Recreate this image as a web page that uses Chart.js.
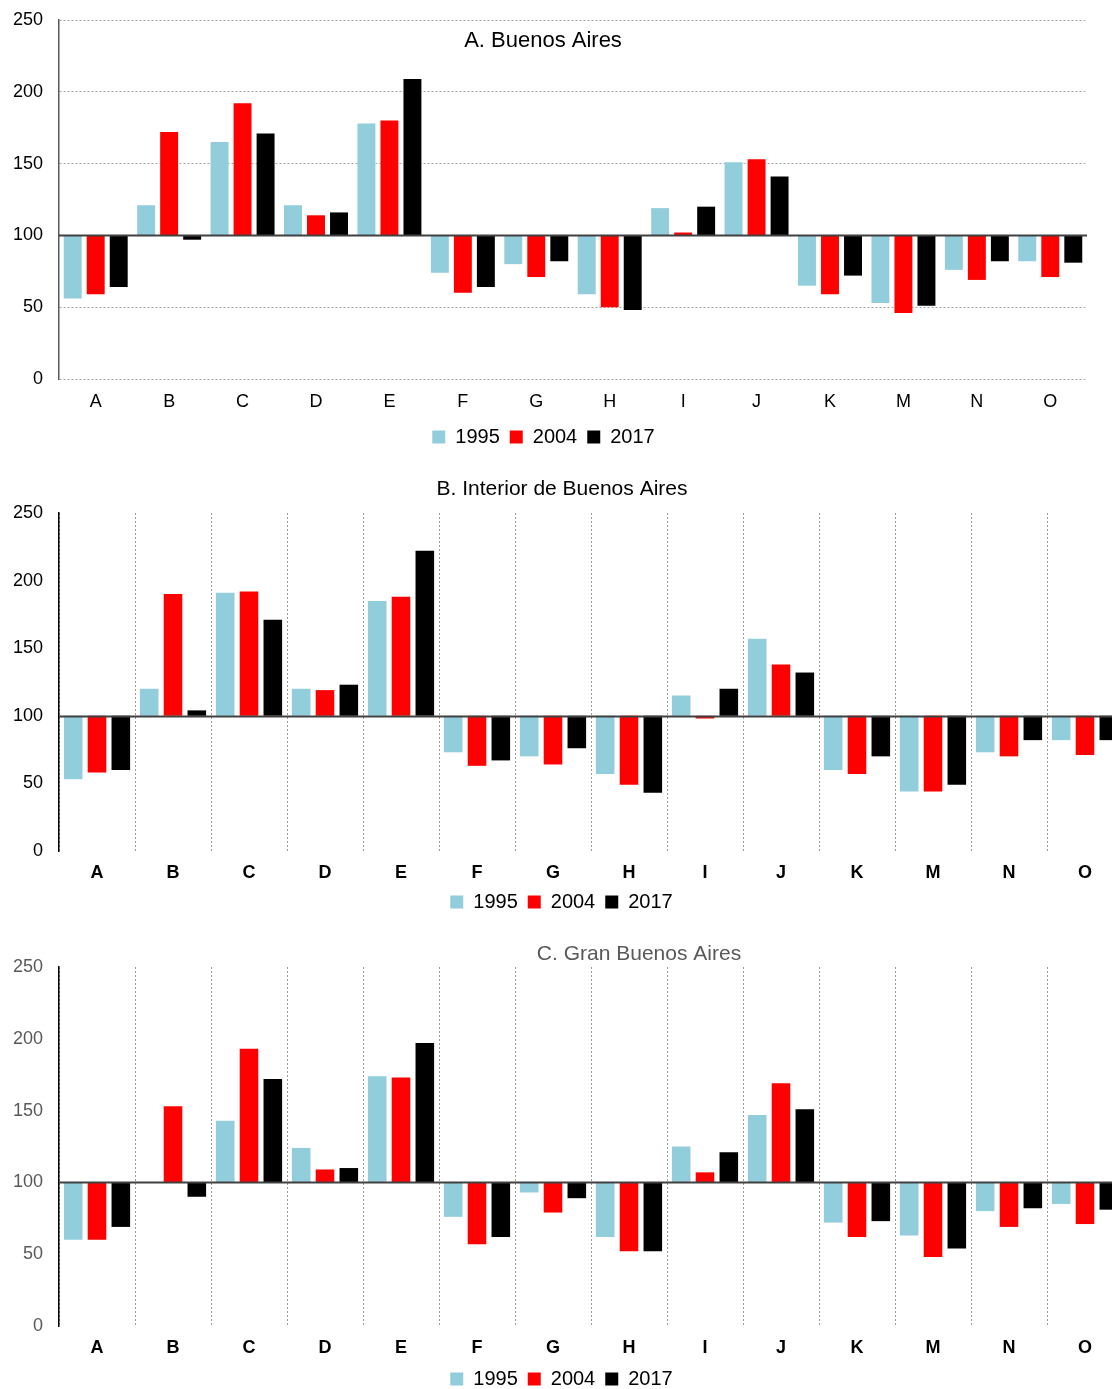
<!DOCTYPE html>
<html>
<head>
<meta charset="utf-8">
<script src="https://cdn.jsdelivr.net/npm/chart.js@4/dist/chart.umd.min.js"></script>
<style>
  html, body { margin: 0; padding: 0; background: #fff; overflow: hidden; }
  #wrap { position: relative; width: 1112px; height: 1389px; overflow: hidden; }
  canvas { position: absolute; left: 0; }
</style>
</head>
<body>
<div id="wrap">
  <canvas id="chartA" width="1112" height="457" style="top:0px"></canvas>
  <canvas id="chartB" width="1126" height="465" style="top:457px"></canvas>
  <canvas id="chartC" width="1126" height="478" style="top:921px"></canvas>
</div>
<script>
// categorías y años
const categories = ['A', 'B', 'C', 'D', 'E', 'F', 'G', 'H', 'I', 'J', 'K', 'M', 'N', 'O'];
const years = ['1995', '2004', '2017'];
const yTickValues = [0, 50, 100, 150, 200, 250];
const baseValue = 100;

// A. Buenos Aires
const bsas1995 = [56, 121, 165, 121, 178, 74, 80, 59, 119, 151, 65, 53, 76, 82];
const bsas2004 = [59, 172, 192, 114, 180, 60, 71, 50, 102, 153, 59, 46, 69, 71];
const bsas2017 = [64, 97, 171, 116, 209, 64, 82, 48, 120, 141, 72, 51, 82, 81];

// B. Interior de Buenos Aires
const interior1995 = [53, 120, 191, 120, 185, 73, 70, 57, 115, 157, 60, 44, 73, 82];
const interior2004 = [58, 190, 192, 119, 188, 63, 64, 49, 98, 138, 57, 44, 70, 71];
const interior2017 = [60, 104, 171, 123, 222, 67, 76, 43, 120, 132, 70, 49, 82, 82];

// C. Gran Buenos Aires
const gba1995 = [60, null, 143, 124, 174, 76, 93, 62, 125, 147, 72, 63, 80, 85];
const gba2004 = [60, 153, 193, 109, 173, 57, 79, 52, 107, 169, 62, 48, 69, 71];
const gba2017 = [69, 90, 172, 110, 197, 62, 89, 52, 121, 151, 73, 54, 82, 81];

const colors = ['#92CDDC', '#FF0000', '#000000'];
const FONT = 'Liberation Sans, Arial, sans-serif';

// barras flotantes a partir de 100
function floating(values) {
  return values.map(v => (v === null ? null : [baseValue, v]));
}

function makeDatasets(series) {
  return series.map((values, i) => ({
    label: years[i],
    data: floating(values),
    backgroundColor: colors[i],
    categoryPercentage: 0.94,
    barPercentage: 0.78
  }));
}

// línea de base en 100
const baseLine = {
  id: 'baseLine',
  afterDatasetsDraw(chart, args, opts) {
    const { ctx, chartArea, scales } = chart;
    const y = Math.round(scales.y.getPixelForValue(baseValue)) + 0.5;
    ctx.save();
    ctx.strokeStyle = opts.color || '#404040';
    ctx.lineWidth = 2;
    ctx.beginPath();
    ctx.moveTo(chartArea.left, y);
    ctx.lineTo(chartArea.right, y);
    ctx.stroke();
    ctx.restore();
  }
};

// título posicionado
const panelTitle = {
  id: 'panelTitle',
  afterDraw(chart, args, opts) {
    const { ctx, chartArea } = chart;
    ctx.save();
    ctx.font = opts.size + 'px ' + FONT;
    ctx.fillStyle = opts.color;
    ctx.textAlign = 'center';
    ctx.textBaseline = 'middle';
    ctx.fillText(opts.text, opts.x, chartArea.top + opts.dy);
    ctx.restore();
  }
};

function makeChart(id, series, cfg) {
  return new Chart(document.getElementById(id), {
    type: 'bar',
    data: { labels: categories, datasets: makeDatasets(series) },
    plugins: [baseLine, panelTitle],
    options: {
      responsive: false,
      animation: false,
      layout: { padding: { top: cfg.padTop, right: cfg.padRight, left: 0, bottom: 0 } },
      scales: {
        x: {
          grid: {
            display: cfg.vGrid,
            offset: true,
            drawTicks: false,
            color: '#9a9a9a',
            lineWidth: 1
          },
          border: { display: false, dash: [2, 2] },
          ticks: {
            color: '#000',
            padding: cfg.xPad,
            font: { family: FONT, size: 18, weight: cfg.xBold ? 'bold' : 'normal' }
          },
          afterFit(scale) { scale.height = cfg.xHeight; }
        },
        y: {
          min: 0,
          max: 250,
          afterBuildTicks(scale) { scale.ticks = yTickValues.map(v => ({ value: v })); },
          grid: {
            display: cfg.hGrid,
            drawTicks: false,
            color: ctx => (ctx.tick && ctx.tick.value === baseValue ? 'rgba(0,0,0,0)' : '#a6a6a6'),
            lineWidth: 1
          },
          border: { display: true, color: cfg.axisColor, width: 1.5, dash: [2, 2] },
          ticks: {
            color: cfg.yColor,
            padding: 16,
            font: { family: FONT, size: 18 }
          },
          afterFit(scale) {
            scale.width = 59;
            scale.paddingTop = 0;
            scale.paddingBottom = 0;
          }
        }
      },
      plugins: {
        legend: {
          position: 'bottom',
          labels: {
            color: '#000',
            boxWidth: 13,
            boxHeight: 13,
            padding: 10,
            font: { family: FONT, size: 20 }
          }
        },
        tooltip: { enabled: false },
        baseLine: { color: '#404040' },
        panelTitle: cfg.title
      }
    }
  });
}

makeChart('chartA', [bsas1995, bsas2004, bsas2017], {
  padTop: 20, padRight: 25, xPad: 12, xHeight: 38, xBold: false,
  vGrid: false, hGrid: true, axisColor: '#595959', yColor: '#000',
  title: { text: 'A. Buenos Aires', x: 543, dy: 21, size: 22, color: '#000' }
});

makeChart('chartB', [interior1995, interior2004, interior2017], {
  padTop: 56, padRight: 3, xPad: 11, xHeight: 31, xBold: true,
  vGrid: true, hGrid: false, axisColor: '#000', yColor: '#000',
  title: { text: 'B. Interior de Buenos Aires', x: 562, dy: -24, size: 21, color: '#000' }
});

makeChart('chartC', [gba1995, gba2004, gba2017], {
  padTop: 46, padRight: 3, xPad: 11, xHeight: 33, xBold: true,
  vGrid: true, hGrid: false, axisColor: '#000', yColor: '#595959',
  title: { text: 'C. Gran Buenos Aires', x: 639, dy: -13, size: 21, color: '#595959' }
});
</script>
</body>
</html>
